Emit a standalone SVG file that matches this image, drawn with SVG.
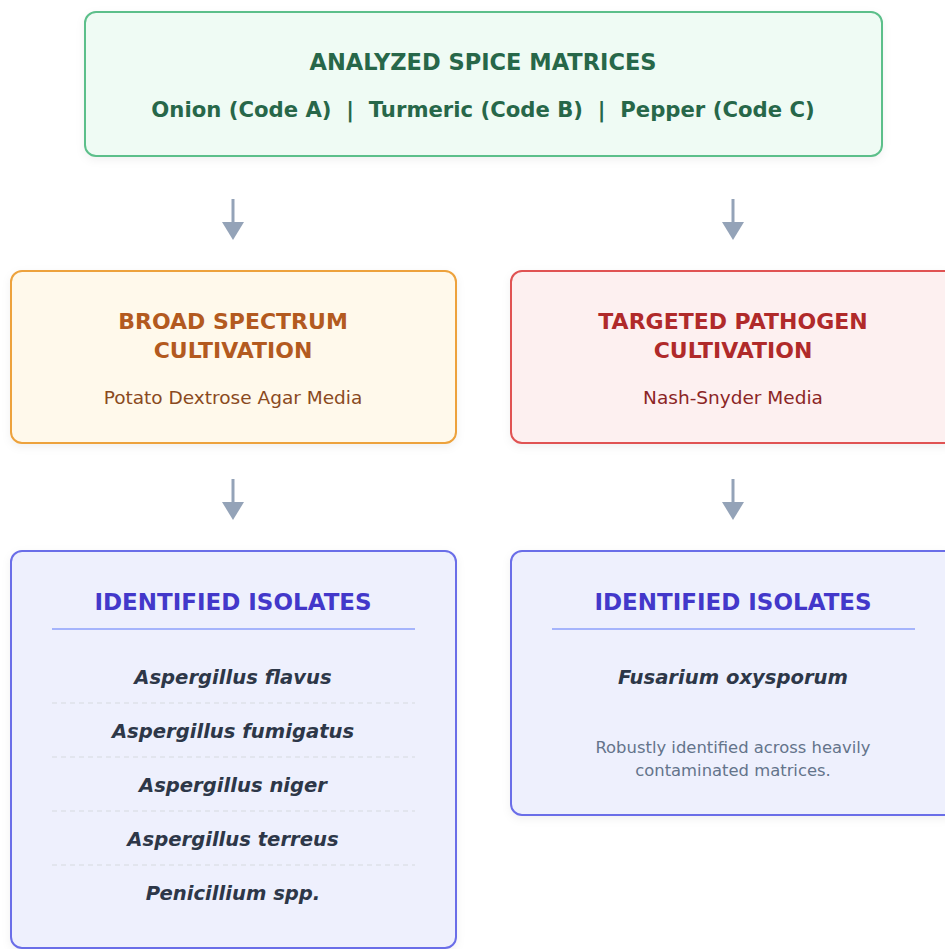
<svg xmlns="http://www.w3.org/2000/svg" width="945" height="949" viewBox="0 0 945 949">
<style>
text{font-family:"DejaVu Sans","Liberation Sans",sans-serif;text-anchor:middle}
.h{font-weight:bold;font-size:22px}
.hi{font-weight:bold;font-size:23px}
.sub{font-size:18.5px}
.it{font-weight:bold;font-style:italic;font-size:19.6px;fill:#2d3748}
.note{font-size:16.4px;fill:#64748b}
.arrow line{stroke:#94a3b8;stroke-width:3}
.arrow path{fill:#94a3b8}
.dash{stroke:#d5d9e0;stroke-width:1.2;stroke-dasharray:5 4}
</style>
<defs>
<filter id="sh" x="-5%" y="-5%" width="110%" height="115%">
<feDropShadow dx="0" dy="3" stdDeviation="4" flood-color="#000" flood-opacity="0.06"/>
</filter>
</defs>
<rect width="945" height="949" fill="#fff"/>
<g id="matrices">
<rect x="85" y="12" width="797" height="144" rx="11" fill="#effbf4" stroke="#5cbf8a" stroke-width="2" filter="url(#sh)"/>
<text x="483" y="70" fill="#276749" font-weight="bold" font-size="22.5">ANALYZED SPICE MATRICES</text>
<text x="483" y="117" fill="#276749" font-weight="bold" font-size="21.2" xml:space="preserve">Onion (Code A)  |  Turmeric (Code B)  |  Pepper (Code C)</text>
</g>
<g id="connectors" class="arrow">
<line x1="233" y1="199" x2="233" y2="226"/><path d="M222,222 L244,222 L233,240 Z"/>
<line x1="733" y1="199" x2="733" y2="226"/><path d="M722,222 L744,222 L733,240 Z"/>
<line x1="233" y1="479" x2="233" y2="506"/><path d="M222,502 L244,502 L233,520 Z"/>
<line x1="733" y1="479" x2="733" y2="506"/><path d="M722,502 L744,502 L733,520 Z"/>
</g>
<g id="broad">
<rect x="11" y="271" width="445" height="172" rx="11" fill="#fff9eb" stroke="#eda23c" stroke-width="2" filter="url(#sh)"/>
<text class="h" x="233" y="329" fill="#b35a1f">BROAD SPECTRUM</text>
<text class="h" x="233" y="358" fill="#b35a1f">CULTIVATION</text>
<text class="sub" x="233" y="404" fill="#8a4a1e">Potato Dextrose Agar Media</text>
</g>
<g id="targeted">
<rect x="511" y="271" width="445" height="172" rx="11" fill="#fdf0f0" stroke="#e05252" stroke-width="2" filter="url(#sh)"/>
<text class="h" x="733" y="329" fill="#b02a2a">TARGETED PATHOGEN</text>
<text class="h" x="733" y="358" fill="#b02a2a">CULTIVATION</text>
<text class="sub" x="733" y="404" fill="#8b2525">Nash-Snyder Media</text>
</g>
<g id="isolates-broad">
<rect x="11" y="551" width="445" height="397" rx="11" fill="#eef0fd" stroke="#6b6ee8" stroke-width="2" filter="url(#sh)"/>
<text class="hi" x="233" y="610" fill="#4338ca">IDENTIFIED ISOLATES</text>
<line x1="52" y1="629" x2="415" y2="629" stroke="#a5b4fc" stroke-width="2"/>
<text class="it" x="233" y="684">Aspergillus flavus</text>
<line class="dash" x1="52" y1="703" x2="415" y2="703"/>
<text class="it" x="233" y="738">Aspergillus fumigatus</text>
<line class="dash" x1="52" y1="757" x2="415" y2="757"/>
<text class="it" x="233" y="792">Aspergillus niger</text>
<line class="dash" x1="52" y1="811" x2="415" y2="811"/>
<text class="it" x="233" y="846">Aspergillus terreus</text>
<line class="dash" x1="52" y1="865" x2="415" y2="865"/>
<text class="it" x="233" y="900">Penicillium spp.</text>
</g>
<g id="isolates-targeted">
<rect x="511" y="551" width="445" height="264" rx="11" fill="#eef0fd" stroke="#6b6ee8" stroke-width="2" filter="url(#sh)"/>
<text class="hi" x="733" y="610" fill="#4338ca">IDENTIFIED ISOLATES</text>
<line x1="552" y1="629" x2="915" y2="629" stroke="#a5b4fc" stroke-width="2"/>
<text class="it" x="733" y="684">Fusarium oxysporum</text>
<text class="note" x="733" y="753">Robustly identified across heavily</text>
<text class="note" x="733" y="776">contaminated matrices.</text>
</g>
</svg>
